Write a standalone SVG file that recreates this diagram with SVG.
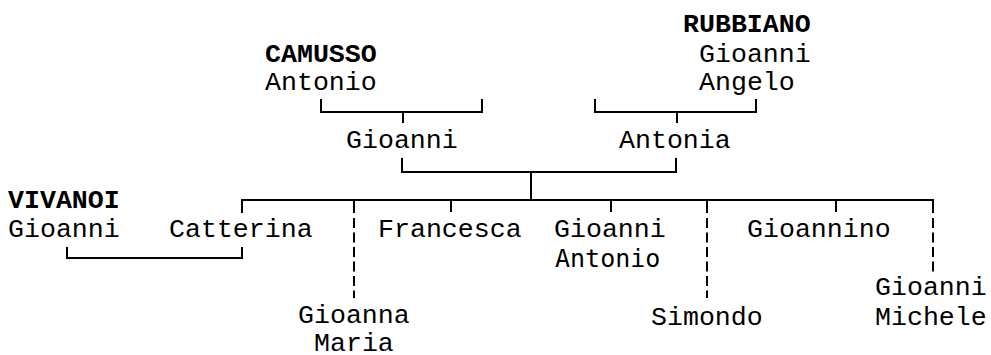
<svg xmlns="http://www.w3.org/2000/svg" width="991" height="355" viewBox="0 0 991 355">
<style>
text{font-family:"Liberation Mono","DejaVu Sans Mono",monospace;font-size:26.6px;fill:#000}
.b{font-weight:bold}
.s{font-family:"DejaVu Sans Mono","Liberation Mono",monospace;font-size:25px}
.ln{fill:none;stroke:#000;stroke-width:2}
.d{fill:none;stroke:#000;stroke-width:2;stroke-dasharray:10 4.5}
</style>
<rect width="991" height="355" fill="#fff"/>
<g id="connectors">
<path class="ln" d="M321,99V112H482V99M403,112V123"/>
<path class="ln" d="M595,99V112H756V99M677,112V123"/>
<path class="ln" d="M402,158V172H676V158M531,172V200"/>
<path class="ln" d="M242,213V200H933V213M354,200V213M451,200V212M611,200V212M707,200V213M836,200V212"/>
<path class="ln" d="M67,247V258H242V247"/>
<path class="d" d="M354,218V298M707,218V298M933,218V272"/>
</g>
<g id="camusso-antonio"><text class="b" x="265" y="62">CAMUSSO</text><text x="265" y="90">Antonio</text></g>
<g id="rubbiano-gioanni-angelo"><text class="b" x="683" y="32">RUBBIANO</text><text x="699" y="62">Gioanni</text><text x="699" y="90">Angelo</text></g>
<g id="gioanni"><text x="346" y="148">Gioanni</text></g>
<g id="antonia"><text x="619" y="148">Antonia</text></g>
<g id="vivanoi-gioanni"><text class="b" x="8" y="208">VIVANOI</text><text x="8" y="237">Gioanni</text></g>
<g id="catterina"><text x="169" y="237">Catterina</text></g>
<g id="gioanna-maria"><text x="298" y="323">Gioanna</text><text x="314" y="351">Maria</text></g>
<g id="francesca"><text x="378" y="237">Francesca</text></g>
<g id="gioanni-antonio"><text x="554" y="237">Gioanni</text><text class="s" x="555" y="267">Antonio</text></g>
<g id="simondo"><text x="651" y="325">Simondo</text></g>
<g id="gioannino"><text x="747" y="237">Gioannino</text></g>
<g id="gioanni-michele"><text x="875" y="295">Gioanni</text><text x="875" y="325">Michele</text></g>
</svg>
